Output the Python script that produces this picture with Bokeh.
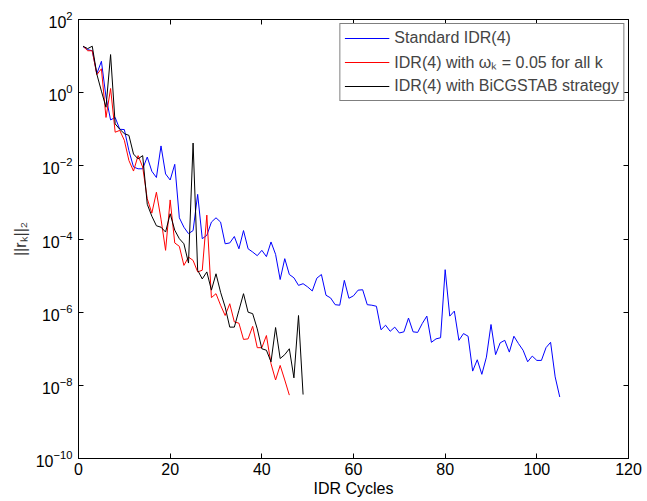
from bokeh.plotting import figure
from bokeh.models import (Range1d, FixedTicker, LinearAxis, LogAxis, Legend, LegendItem,
                          LogTickFormatter)
from bokeh.embed import file_html
from bokeh.resources import INLINE

# ---- data ----
standard_idr4 = [
    1.8e1, 1.5e1, 1.4e1, 3.3, 7.2, 7.6e-1, 1.8e-1, 2.1e-1, 1.0e-1, 9.8e-2,
    2.6e-2, 9.3e-3, 8.3e-3, 8.3e-3, 1.74e-2, 7.1e-3, 4.8e-3, 3.5e-2, 6.0e-3, 4.1e-3,
    1.1e-2, 3.8e-4, 2.1e-4, 1.4e-4, 1.7e-4, 1.66e-3, 1.02e-4, 1.26e-4, 2.9e-4, 3.8e-4,
    2.9e-4, 7.4e-5, 7.8e-5, 1.17e-4, 5.4e-5, 1.7e-4, 5.4e-5, 4.4e-5, 3.5e-5, 4.9e-5,
    3.3e-5, 8.3e-5, 3.8e-5, 7.8e-6, 2.9e-5, 1.07e-5, 8.7e-6, 5.4e-6, 6.0e-6, 4.9e-6,
    3.8e-6, 8.5e-6, 1.07e-5, 2.9e-6, 2.45e-6, 1.6e-6, 1.55e-6, 7.4e-6, 2.4e-6, 2.8e-6,
    4.0e-6, 4.1e-6, 1.6e-6, 1.55e-6, 1.45e-6, 3.3e-7, 4.4e-7, 3.0e-7, 3.9e-7, 2.7e-7,
    2.9e-7, 6.9e-7, 2.9e-7, 2.8e-7, 4.9e-7, 7.8e-7, 1.5e-7, 1.86e-7, 2.0e-7, 1.45e-5,
    7.8e-7, 1.07e-6, 1.7e-7, 2.6e-7, 2.2e-7, 2.45e-8, 5.0e-8, 2.0e-8, 5.9e-8, 4.6e-7,
    6.9e-8, 1.45e-7, 1.7e-7, 8.1e-8, 2.2e-7, 1.38e-7, 9.1e-8, 4.4e-8, 6.3e-8, 4.8e-8,
    4.8e-8, 1.07e-7, 1.5e-7, 1.7e-8, 4.8e-9,
]
omega_fixed = [
    1.86e1, 1.4e1, 1.4e1, 3.1, 4.5, 2.1e-1, 1.3, 8.3e-2, 9.3e-2, 5.0e-2,
    1.4e-2, 7.2e-3, 1.9e-2, 9.3e-3, 1.26e-3, 5.1e-4, 1.9e-3, 3.5e-4, 4.9e-5, 1.17e-3,
    7.8e-5, 6.3e-5, 1.9e-5, 3.2e-5, 2.6e-5, 1.26e-5, 1.4e-5, 4.5e-4, 2.5e-6, 3.2e-6,
    1.55e-6, 8.1e-7, 1.7e-6, 5.4e-7, 5.0e-7, 1.8e-7, 1.86e-7, 4.1e-7, 1.07e-7, 1.07e-7,
    2.3e-7, 3.9e-8, 1.4e-8, 3.5e-8, 1.4e-8, 5.4e-9,
]
bicgstab = [
    1.86e1, 1.6e1, 1.86e1, 3.2, 1.1, 4.0e-1, 1.1e1, 1.4e-1, 1.0e-1, 7.6e-2,
    6.8e-2, 2.1e-2, 1.55e-2, 1.9e-2, 8.9e-4, 4.2e-4, 2.3e-4, 2.1e-4, 1.55e-4, 4.9e-4,
    1.74e-4, 1.02e-4, 7.4e-5, 2.2e-5, 4.2e-2, 1.4e-5, 8.1e-6, 1.26e-5, 4.0e-6, 1.12e-5,
    3.5e-6, 1.38e-6, 3.9e-7, 3.9e-7, 1.12e-6, 3.2e-6, 1.0e-6, 9.1e-7, 3.5e-7, 1.0e-7,
    9.1e-8, 4.4e-8, 3.8e-7, 5.4e-8, 6.9e-8, 1.0e-7, 1.6e-8, 8.1e-7, 5.6e-9,
]
cycles_std = list(range(1, len(standard_idr4) + 1))
cycles_omega = list(range(1, len(omega_fixed) + 1))
cycles_bic = list(range(1, len(bicgstab) + 1))

x_ticks = [0, 20, 40, 60, 80, 100, 120]
y_ticks = [1e-10, 1e-8, 1e-6, 1e-4, 1e-2, 1e0, 1e2]

labels = ["Standard IDR(4)", "IDR(4) with \u03c9\u2096 = 0.05 for all k",
          "IDR(4) with BiCGSTAB strategy"]

FONT = "Liberation Sans"

p = figure(width=647, height=501, y_axis_type="log",
           x_range=Range1d(0, 120), y_range=Range1d(1e-10, 1e2),
           output_backend="svg", toolbar_location=None,
           min_border_left=78, min_border_right=19, min_border_top=19,
           min_border_bottom=43)
p.grid.visible = False
p.outline_line_color = "black"
p.outline_line_width = 1
p.background_fill_color = "white"
p.border_fill_color = "white"

rb = p.line(cycles_std, standard_idr4, line_color="#0000ff", line_width=1)
rr = p.line(cycles_omega, omega_fixed, line_color="#ff0000", line_width=1)
rk = p.line(cycles_bic, bicgstab, line_color="#000000", line_width=1)


def style_axis(ax, show_labels=True):
    ax.axis_line_color = "black"
    ax.axis_line_width = 1
    ax.major_tick_in = 5
    ax.major_tick_out = 0
    ax.minor_tick_in = 0
    ax.minor_tick_out = 0
    ax.major_tick_line_color = "black"
    ax.major_label_text_font = FONT
    if show_labels:
        ax.major_label_text_font_size = "16px"
        ax.major_label_text_color = "black"
    else:
        ax.major_label_text_font_size = "1px"
        ax.major_label_text_color = None
    ax.axis_label_text_font = FONT
    ax.axis_label_text_font_size = "16px"
    ax.axis_label_text_font_style = "normal"
    ax.axis_label_text_color = "black"


xax = p.xaxis[0]
xax.ticker = FixedTicker(ticks=x_ticks, minor_ticks=[])
xax.axis_label = "IDR Cycles"
style_axis(xax)
xax.major_label_standoff = 4
xax.axis_label_standoff = 2

yax = p.yaxis[0]
yax.ticker = FixedTicker(ticks=y_ticks, minor_ticks=[])
yax.axis_label = "||r\u2096||\u2082"
style_axis(yax)
yax.axis_label_text_color = "#333333"
yax.major_label_standoff = 6
yax.axis_label_standoff = 4

top = LinearAxis(ticker=FixedTicker(ticks=x_ticks, minor_ticks=[]))
style_axis(top, show_labels=False)
top.major_label_standoff = 0
p.add_layout(top, "above")

right = LogAxis(ticker=FixedTicker(ticks=y_ticks, minor_ticks=[]),
                formatter=LogTickFormatter())
style_axis(right, show_labels=False)
right.major_label_standoff = 0
p.add_layout(right, "right")

legend = Legend(items=[LegendItem(label=labels[0], renderers=[rb]),
                       LegendItem(label=labels[1], renderers=[rr]),
                       LegendItem(label=labels[2], renderers=[rk])],
                location="top_right", margin=4, padding=4, spacing=3,
                glyph_width=45, glyph_height=20, label_height=20,
                label_standoff=5,
                label_text_font=FONT, label_text_font_size="16px",
                border_line_color="black", border_line_width=1,
                background_fill_color="white", background_fill_alpha=1)
p.add_layout(legend)

open("out.html", "w").write(file_html(p, INLINE))
